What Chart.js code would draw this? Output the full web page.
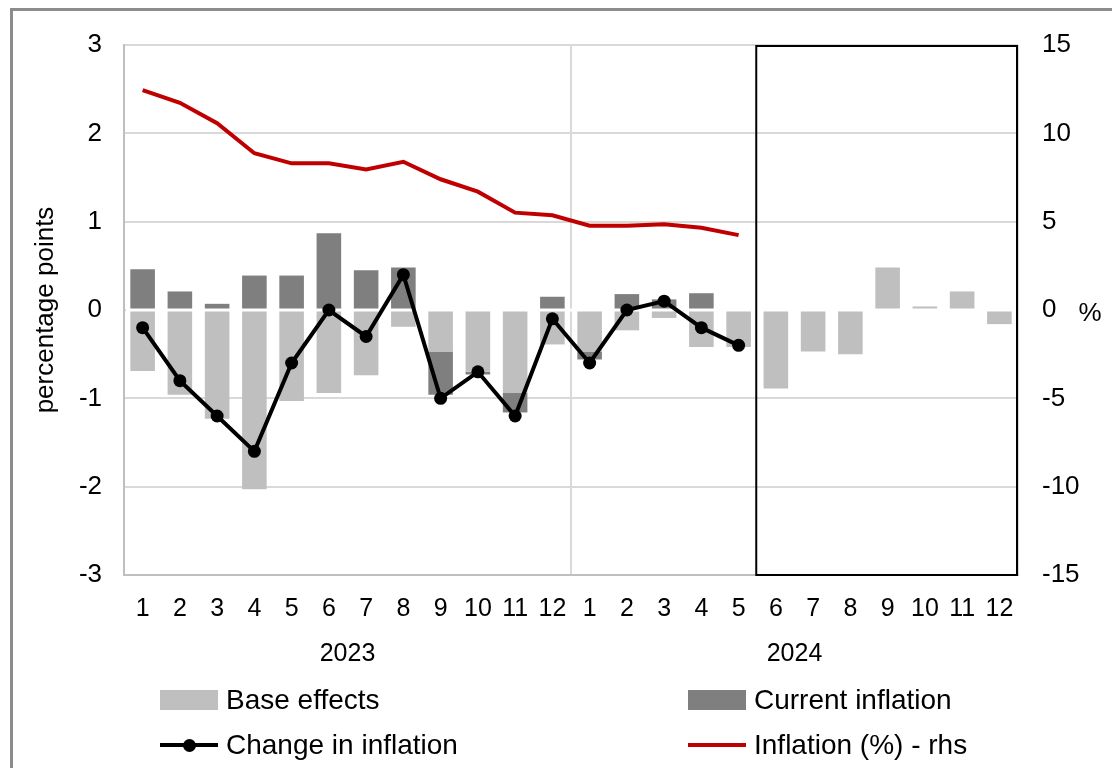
<!DOCTYPE html>
<html>
<head>
<meta charset="utf-8">
<script src="https://cdn.jsdelivr.net/npm/chart.js@4.4.1/dist/chart.umd.min.js"></script>
<style>
  html, body { margin: 0; padding: 0; background: #fff; overflow: hidden; }
  body { width: 1112px; height: 768px; position: relative; font-family: "Liberation Sans", Arial, sans-serif; }
  #frame { position: absolute; left: 10px; top: 8px; width: 1200px; height: 800px;
           border-top: 3px solid #8c8c8c; border-left: 3px solid #8c8c8c; }
  #wrap { position: absolute; left: 0; top: 0; width: 1112px; height: 768px; }
  .leg { position: absolute; display: flex; align-items: center; font-size: 28px; color: #000; white-space: nowrap; }
  .sw { width: 58px; height: 20px; margin-right: 8px; position: relative; }
  .ln { width: 58px; height: 20px; margin-right: 8px; position: relative; }
  .ln i { position: absolute; left: 0; right: 0; top: 8px; height: 4px; }
  .ln b { position: absolute; left: 23px; top: 4px; width: 13px; height: 13px; border-radius: 50%; }
</style>
</head>
<body>
<div id="frame"></div>
<div id="wrap"><canvas id="c" width="1112" height="768"></canvas></div>
<div id="legend"></div>
<script>
// Months on the axis, 2023 then 2024
const months = ['1','2','3','4','5','6','7','8','9','10','11','12',
                '1','2','3','4','5','6','7','8','9','10','11','12'];
const years = ['2023', '2024'];

// Contributions to the change in inflation, percentage points
const baseEffects = [-0.69, -0.96, -1.23, -2.03, -1.03, -0.94, -0.74, -0.19, -0.47, -0.70, -0.94, -0.39,
                     -0.47, -0.23, -0.09, -0.42, -0.42, -0.89, -0.47, -0.50, 0.48, 0.04, 0.21, -0.16];
const currentInflation = [0.46, 0.21, 0.07, 0.39, 0.39, 0.87, 0.45, 0.48, -0.49, -0.03, -0.22, 0.15,
                          -0.09, 0.18, 0.12, 0.19, 0.00];
const changeInInflation = [-0.2, -0.8, -1.2, -1.6, -0.6, 0.0, -0.3, 0.4, -1.0, -0.7, -1.2, -0.1,
                           -0.6, 0.0, 0.1, -0.2, -0.4];

// Headline inflation, % (right-hand scale)
const inflationRate = [12.45, 11.73, 10.57, 8.87, 8.30, 8.30, 7.96, 8.39, 7.40, 6.70, 5.51, 5.36,
                       4.77, 4.77, 4.85, 4.66, 4.24];

const leftTicks = [-3, -2, -1, 0, 1, 2, 3];
const rightTicks = [-15, -10, -5, 0, 5, 10, 15];

const FONT = '"Liberation Sans", Arial, sans-serif';
const GRID = '#d9d9d9';
const AXIS = '#bfbfbf';

// White separator along zero, drawn over the bars but under the lines
const zeroLine = {
  id: 'zeroLine',
  beforeDatasetDraw(chart, args) {
    if (args.index !== 2) return;
    const y = chart.scales.y.getPixelForValue(0);
    const { left, right } = chart.chartArea;
    const ctx = chart.ctx;
    ctx.save();
    ctx.strokeStyle = '#ffffff';
    ctx.lineWidth = 3;
    ctx.beginPath();
    ctx.moveTo(left + 2, y);
    ctx.lineTo(right, y);
    ctx.stroke();
    ctx.restore();
  }
};

// Frame around the months still to come in 2024, plus the unit of the right scale
const forecastBox = {
  id: 'forecastBox',
  afterDraw(chart) {
    const x = chart.scales.x;
    const { top, bottom, right } = chart.chartArea;
    const step = x.getPixelForValue(1) - x.getPixelForValue(0);
    const lastActual = changeInInflation.length - 1;
    const bx = x.getPixelForValue(lastActual) + step / 2 - 1;
    const ctx = chart.ctx;
    ctx.save();
    ctx.strokeStyle = '#000';
    ctx.lineWidth = 2;
    ctx.strokeRect(bx, top + 1, right - bx - 1, bottom - top - 1);
    ctx.fillStyle = '#000';
    ctx.font = '26px ' + FONT;
    ctx.textAlign = 'center';
    ctx.textBaseline = 'middle';
    ctx.fillText('%', 1090, chart.scales.y1.getPixelForValue(0) + 4);
    ctx.restore();
  }
};

const chart = new Chart(document.getElementById('c'), {
  type: 'bar',
  data: {
    labels: months,
    datasets: [
      { label: 'Base effects', data: baseEffects, backgroundColor: '#bfbfbf',
        stack: 's', order: 2, categoryPercentage: 1, barPercentage: 0.66, yAxisID: 'y' },
      { label: 'Current inflation', data: currentInflation, backgroundColor: '#7f7f7f',
        stack: 's', order: 2, categoryPercentage: 1, barPercentage: 0.66, yAxisID: 'y' },
      { type: 'line', label: 'Inflation (%) - rhs', data: inflationRate, borderColor: '#c00000',
        backgroundColor: '#c00000', borderWidth: 4, pointRadius: 0, tension: 0, order: 1, yAxisID: 'y1' },
      { type: 'line', label: 'Change in inflation', data: changeInInflation, borderColor: '#000',
        backgroundColor: '#000', borderWidth: 4, pointRadius: 6.5, pointBackgroundColor: '#000',
        pointBorderWidth: 0, tension: 0, order: 0, yAxisID: 'y' }
    ]
  },
  options: {
    responsive: false,
    animation: false,
    events: [],
    layout: { padding: { left: 0, right: 0, top: 45, bottom: 88 } },
    plugins: { legend: { display: false }, tooltip: { enabled: false } },
    scales: {
      x: {
        stacked: true,
        grid: { display: false },
        border: { display: true, color: AXIS, width: 2 },
        ticks: { color: '#000', font: { family: FONT, size: 25 }, padding: 11, maxRotation: 0, autoSkip: false },
        afterFit(s) { s.height = 55; }
      },
      x2: {
        type: 'category',
        labels: years,
        position: 'bottom',
        offset: true,
        grid: { display: true, offset: true, color: GRID, lineWidth: 2, drawTicks: false },
        border: { display: false },
        ticks: { color: '#000', font: { family: FONT, size: 25 }, padding: 9, maxRotation: 0 },
        afterFit(s) { s.height = 50; }
      },
      y: {
        stacked: true,
        position: 'left',
        min: -3, max: 3,
        afterBuildTicks(s) { s.ticks = leftTicks.map(v => ({ value: v })); },
        grid: { color: GRID, lineWidth: 2, drawTicks: false },
        border: { display: true, color: AXIS, width: 2 },
        ticks: { color: '#000', font: { family: FONT, size: 26 }, padding: 22 },
        title: { display: true, text: 'percentage points', color: '#000',
                 font: { family: FONT, size: 26 }, padding: { top: 30, bottom: 0 } },
        afterFit(s) { s.width = 124; }
      },
      y1: {
        position: 'right',
        min: -15, max: 15,
        afterBuildTicks(s) { s.ticks = rightTicks.map(v => ({ value: v })); },
        grid: { display: false, drawTicks: false },
        border: { display: false },
        ticks: { color: '#000', font: { family: FONT, size: 26 }, padding: 24 },
        afterFit(s) { s.width = 94; }
      }
    }
  },
  plugins: [zeroLine, forecastBox]
});

// Legend laid out in two rows, built from the chart's own datasets
(function buildLegend() {
  const ds = chart.data.datasets;
  const slots = [
    { i: 0, x: 160, y: 700 }, { i: 1, x: 688, y: 700 },
    { i: 3, x: 160, y: 745 }, { i: 2, x: 688, y: 745 }
  ];
  const host = document.getElementById('legend');
  slots.forEach(s => {
    const d = ds[s.i];
    const el = document.createElement('div');
    el.className = 'leg';
    el.style.left = s.x + 'px';
    el.style.top = (s.y - 16) + 'px';
    el.style.height = '32px';
    let mark;
    if (d.type === 'line') {
      mark = document.createElement('div');
      mark.className = 'ln';
      const line = document.createElement('i');
      line.style.background = d.borderColor;
      mark.appendChild(line);
      if (d.pointRadius > 0) {
        const dot = document.createElement('b');
        dot.style.background = d.pointBackgroundColor;
        mark.appendChild(dot);
      }
    } else {
      mark = document.createElement('div');
      mark.className = 'sw';
      mark.style.background = d.backgroundColor;
    }
    el.appendChild(mark);
    const txt = document.createElement('span');
    txt.textContent = d.label;
    el.appendChild(txt);
    host.appendChild(el);
  });
})();
</script>
</body>
</html>
